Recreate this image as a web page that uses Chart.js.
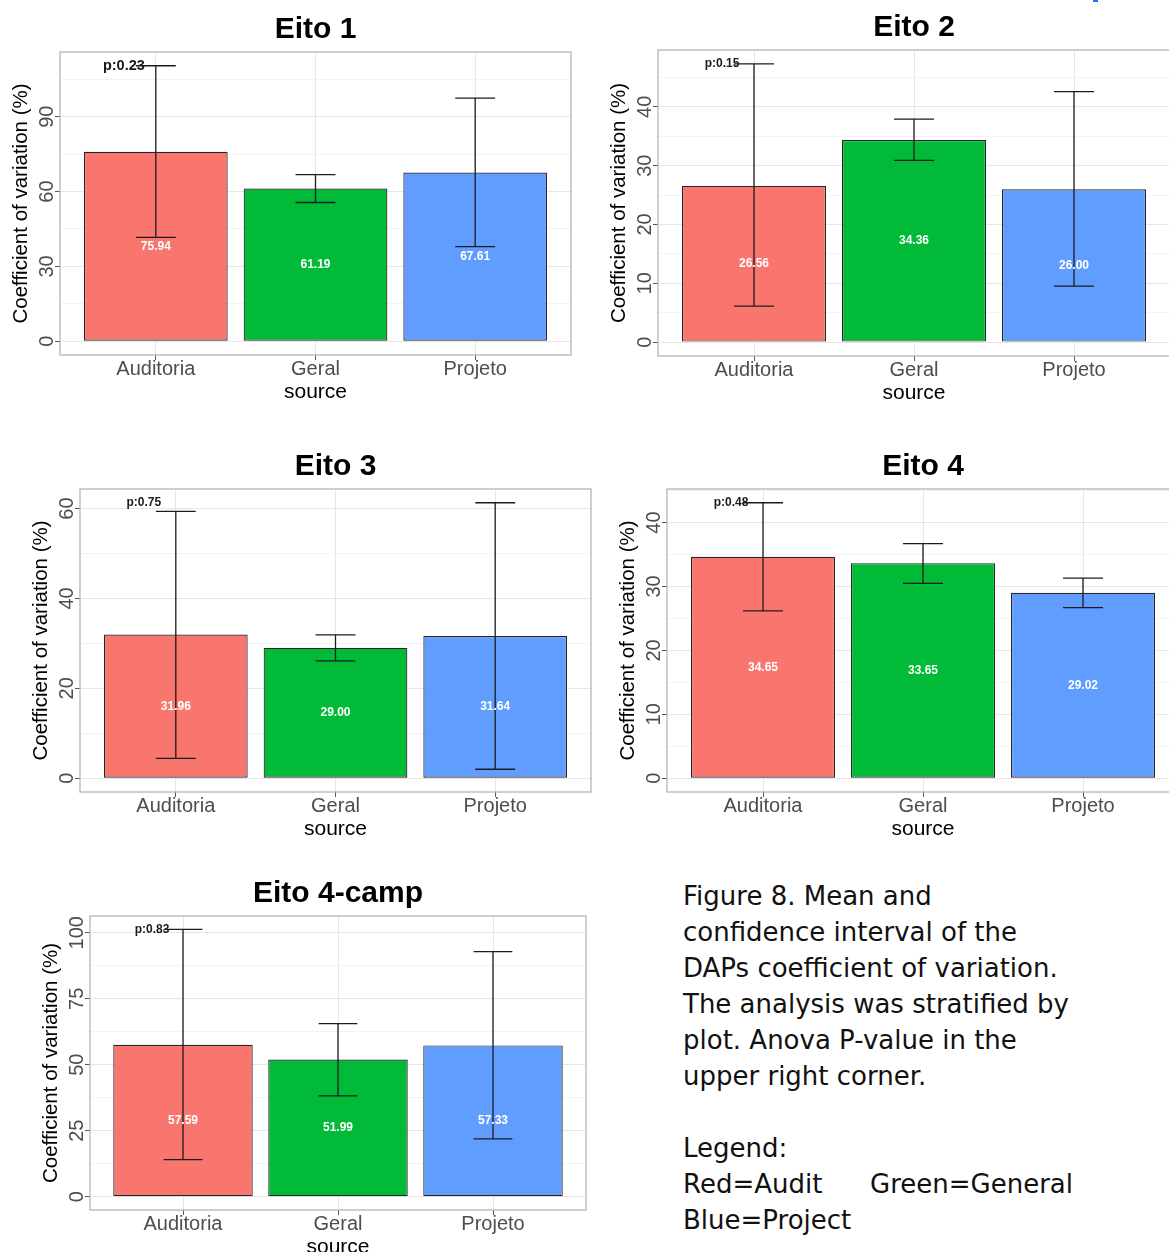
<!DOCTYPE html>
<html>
<head>
<meta charset="utf-8">
<script src="https://cdn.jsdelivr.net/npm/chart.js@4.4.1/dist/chart.umd.min.js"></script>
<style>
html,body{margin:0;padding:0;background:#fff;}
body{width:1169px;height:1252px;overflow:hidden;position:relative;}
canvas{position:absolute;}
#caption{position:absolute;left:683px;top:878px;font-family:"DejaVu Sans",sans-serif;font-size:26px;line-height:36px;color:#111;white-space:nowrap;}
#blip{position:absolute;left:1093px;top:0;width:5px;height:2px;background:#2f6cf0;}
</style>
</head>
<body>
<canvas id="c1"></canvas>
<canvas id="c2"></canvas>
<canvas id="c3"></canvas>
<canvas id="c4"></canvas>
<canvas id="c5"></canvas>
<div id="blip"></div>
<div id="caption">Figure 8. Mean and<br>confidence interval of the<br>DAPs coefficient of variation.<br>The analysis was stratified by<br>plot. Anova P-value in the<br>upper right corner.<br><br>Legend:<br><span>Red=Audit</span><span style="position:absolute;left:187px;">Green=General</span><br>Blue=Project</div>
<script>
// ---------- data ----------
const categories = ['Auditoria', 'Geral', 'Projeto'];
const titles = ['Eito 1', 'Eito 2', 'Eito 3', 'Eito 4', 'Eito 4-camp'];
const pLabels = ['p:0.23', 'p:0.15', 'p:0.75', 'p:0.48', 'p:0.83'];

const mean1 = [75.94, 61.19, 67.61];
const low1  = [41.6, 55.6, 37.9];
const high1 = [110.4, 66.8, 97.4];

const mean2 = [26.56, 34.36, 26.00];
const low2  = [6.1, 30.9, 9.5];
const high2 = [47.3, 37.9, 42.6];

const mean3 = [31.96, 29.00, 31.64];
const low3  = [4.4, 26.1, 2.0];
const high3 = [59.4, 31.9, 61.3];

const mean4 = [34.65, 33.65, 29.02];
const low4  = [26.2, 30.5, 26.7];
const high4 = [43.1, 36.7, 31.3];

const mean5 = [57.59, 51.99, 57.33];
const low5  = [14.0, 38.2, 21.9];
const high5 = [101.3, 65.6, 92.9];

const yTicks1 = [0, 30, 60, 90];
const yTicks2 = [0, 10, 20, 30, 40];
const yTicks3 = [0, 20, 40, 60];
const yTicks4 = [0, 10, 20, 30, 40];
const yTicks5 = [0, 25, 50, 75, 100];

// ---------- layout / style ----------
const FAM = '"Liberation Sans", Arial, Helvetica, sans-serif';
const barColors = ['#F8766D', '#00BA38', '#619CFF'];
const panels = [
  {id: 'c1', L: 60,  R: 571,  T: 52,  B: 355,  pFont: 14.5},
  {id: 'c2', L: 658, R: 1170, T: 50,  B: 356,  pFont: 12},
  {id: 'c3', L: 80,  R: 591,  T: 489, B: 792,  pFont: 12},
  {id: 'c4', L: 667, R: 1179, T: 489, B: 792,  pFont: 12},
  {id: 'c5', L: 90,  R: 586,  T: 916, B: 1210, pFont: 12}
];
const series = [
  [mean1, low1, high1, yTicks1],
  [mean2, low2, high2, yTicks2],
  [mean3, low3, high3, yTicks3],
  [mean4, low4, high4, yTicks4],
  [mean5, low5, high5, yTicks5]
];
const YAXW = 60, XAXH = 58, TOPH = 52, RPAD = 4, TICKLEN = 5, YLABGAP = 13;

const extrasPlugin = {
  id: 'eitoExtras',
  afterDatasetsDraw(chart, args, o) {
    const {ctx, chartArea: a, scales: {x, y}} = chart;
    ctx.save();
    // panel border
    ctx.strokeStyle = '#B5B5B5';
    ctx.lineWidth = 1.3;
    ctx.strokeRect(a.left, a.top, a.right - a.left, a.bottom - a.top);
    // error bars
    ctx.strokeStyle = '#1c1c1c';
    ctx.lineWidth = 1.3;
    o.low.forEach((lo, i) => {
      const xc = x.getPixelForValue(i + 1);
      const xl = x.getPixelForValue(i + 1 - 0.125);
      const xr = x.getPixelForValue(i + 1 + 0.125);
      const yl = y.getPixelForValue(lo);
      const yh = y.getPixelForValue(o.high[i]);
      ctx.beginPath();
      ctx.moveTo(xc, yl); ctx.lineTo(xc, yh);
      ctx.moveTo(xl, yl); ctx.lineTo(xr, yl);
      ctx.moveTo(xl, yh); ctx.lineTo(xr, yh);
      ctx.stroke();
    });
    // value labels
    ctx.fillStyle = '#ffffff';
    ctx.font = 'bold 12px ' + FAM;
    ctx.textAlign = 'center';
    ctx.textBaseline = 'middle';
    o.mean.forEach((m, i) => {
      ctx.fillText(m.toFixed(2), x.getPixelForValue(i + 1), y.getPixelForValue(m / 2));
    });
    // p value
    ctx.fillStyle = '#1a1a1a';
    ctx.font = 'bold ' + o.pFont + 'px ' + FAM;
    ctx.fillText(o.p, x.getPixelForValue(0.8), y.getPixelForValue(Math.max(...o.high)));
    ctx.restore();
  }
};

const mctx = document.createElement('canvas').getContext('2d');
mctx.font = '20px ' + FAM;

panels.forEach((pn, k) => {
  const [mean, low, high, majors] = series[k];
  const cv = document.getElementById(pn.id);
  cv.width = (pn.R - pn.L) + YAXW + RPAD;
  cv.height = (pn.B - pn.T) + TOPH + XAXH;
  cv.style.left = (pn.L - YAXW) + 'px';
  cv.style.top = (pn.T - TOPH) + 'px';

  const hi = Math.max(...high);
  const yMin = -0.05 * hi, yMax = hi * 1.05;
  const step = majors[1] - majors[0];
  const yAll = [];
  for (let v = 0; v <= yMax + 1e-9; v += step / 2) yAll.push(+v.toFixed(4));
  const widest = Math.max(...majors.map(v => mctx.measureText(String(v)).width));
  const yPad = YLABGAP - TICKLEN - widest / 2;
  const isMajor = v => majors.includes(v);

  new Chart(cv, {
    type: 'bar',
    data: {
      datasets: [{
        data: mean.map((v, i) => ({x: i + 1, y: v})),
        backgroundColor: barColors,
        borderColor: '#262626',
        borderWidth: 1.2,
        borderSkipped: false,
        categoryPercentage: 0.9,
        barPercentage: 1.0
      }]
    },
    options: {
      responsive: false,
      animation: false,
      devicePixelRatio: 1,
      layout: {padding: {left: 0, right: RPAD, top: 0, bottom: 0}},
      plugins: {
        legend: {display: false},
        tooltip: {enabled: false},
        title: {
          display: true, text: titles[k], color: '#000', fullSize: false,
          font: {family: FAM, size: 30, weight: 'bold', lineHeight: 1.2},
          padding: {top: 12, bottom: 4}
        },
        eitoExtras: {mean: mean, low: low, high: high, p: pLabels[k], pFont: pn.pFont}
      },
      scales: {
        x: {
          type: 'linear', min: 0.4, max: 3.6, offset: false,
          afterBuildTicks: s => { s.ticks = categories.map((c, i) => ({value: i + 1})); },
          afterFit: s => { s.height = XAXH; },
          ticks: {
            callback: v => categories[v - 1] ?? '',
            color: '#4D4D4D', font: {family: FAM, size: 20, lineHeight: 1},
            padding: -1, maxRotation: 0, autoSkip: false
          },
          grid: {offset: false, color: '#E6E6E6', lineWidth: 1, tickLength: TICKLEN, tickColor: '#555', tickWidth: 1},
          border: {display: false},
          title: {
            display: true, text: 'source', color: '#000',
            font: {family: FAM, size: 21, lineHeight: 1.2},
            padding: {top: 0, bottom: 8.4}
          }
        },
        y: {
          type: 'linear', min: yMin, max: yMax,
          afterBuildTicks: s => { s.ticks = yAll.map(v => ({value: v})); },
          afterFit: s => { s.width = YAXW; },
          ticks: {
            callback: v => isMajor(v) ? String(v) : '',
            color: '#4D4D4D', font: {family: FAM, size: 20, lineHeight: 1},
            padding: yPad, minRotation: 90, maxRotation: 90, crossAlign: 'center', autoSkip: false
          },
          grid: {
            offset: false,
            color: c => isMajor(c.tick.value) ? '#E6E6E6' : '#F3F3F3',
            lineWidth: 1,
            tickLength: TICKLEN,
            tickColor: c => isMajor(c.tick.value) ? '#555' : 'rgba(0,0,0,0)',
            tickWidth: 1
          },
          border: {display: false},
          title: {
            display: true, text: 'Coefficient of variation (%)', color: '#000',
            font: {family: FAM, size: 20.5, lineHeight: 1.2},
            padding: {top: 9.2, bottom: 0}
          }
        }
      }
    },
    plugins: [extrasPlugin]
  });
});
</script>
</body>
</html>
